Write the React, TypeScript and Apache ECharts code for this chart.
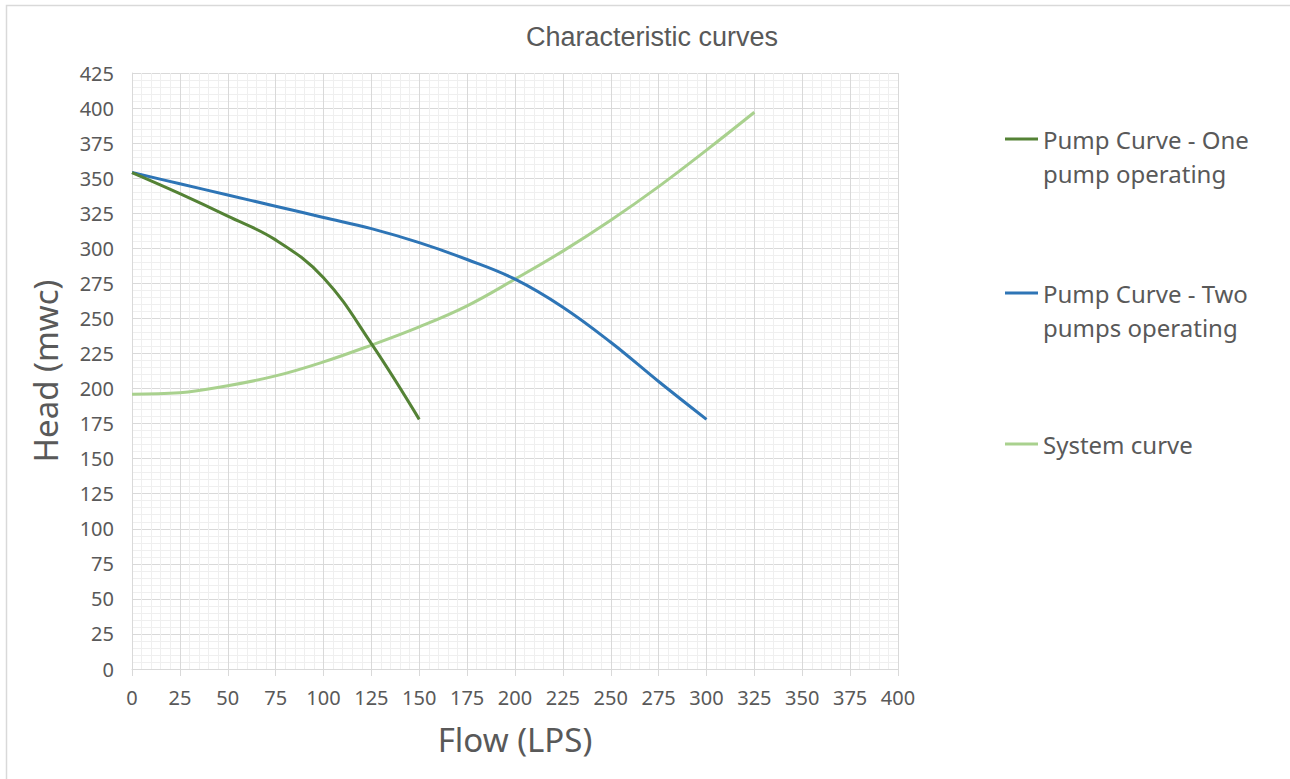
import React, { useEffect, useRef } from "react";
import * as echarts from "echarts";

const onePumpFlow = [0, 25, 50, 75, 100, 125, 150];
const onePumpHead = [354, 339, 323, 306, 279, 232, 178];

const twoPumpFlow = [0, 25, 50, 75, 100, 125, 150, 175, 200, 225, 250, 275, 300];
const twoPumpHead = [354, 346, 338, 330, 322, 314, 304, 292, 278, 258, 233, 205, 178];

const systemFlow = [0, 25, 50, 75, 100, 125, 150, 175, 200, 225, 250, 275, 300, 325];
const systemHead = [196, 197, 202, 209, 219, 231, 244, 259, 278, 298, 320, 344, 370, 397];

const seriesNames = [
  "Pump Curve - One pump operating",
  "Pump Curve - Two pumps operating",
  "System curve",
];
const legendLabels = [
  "\nPump Curve - One\npump operating",
  "\nPump Curve - Two\npumps operating",
  "System curve",
];
const colors = ["#548235", "#2E75B6", "#A9D18E"];

const zip = (xs: number[], ys: number[]) => xs.map((x, i) => [x, ys[i]]);

export default function App() {
  const ref = useRef<HTMLDivElement>(null);
  useEffect(() => {
    if (!ref.current) return;
    const chart = echarts.init(ref.current, undefined, { renderer: "svg" });
    const font = "Noto Sans";
    const txt = "#595959";
    const legendTops = [83, 237, 422];
    chart.setOption({
      animation: false,
      backgroundColor: "#ffffff",
      title: {
        text: "Characteristic curves",
        left: 647,
        top: 18,
        textAlign: "center",
        textStyle: { fontFamily: "Liberation Sans", fontSize: 27, fontWeight: "normal", color: txt },
      },
      legend: seriesNames.map((n, i) => ({
        data: [n],
        orient: "vertical",
        left: 1000,
        top: legendTops[i],
        icon: "rect",
        itemWidth: 33,
        itemHeight: 3,
        itemGap: 0,
        formatter: () => legendLabels[i],
        textStyle: { fontFamily: font, fontSize: 24, color: txt, lineHeight: 34 },
      })),
      grid: { left: 132, right: 392, top: 73, bottom: 110, containLabel: false },
      xAxis: {
        type: "value",
        min: 0,
        max: 400,
        interval: 25,
        name: "Flow (LPS)",
        nameLocation: "middle",
        nameGap: 54,
        nameTextStyle: { fontFamily: font, fontSize: 33, color: txt },
        axisLine: { show: true, lineStyle: { color: "#d9d9d9", width: 1 } },
        axisTick: { show: true, length: 7, lineStyle: { color: "#d9d9d9" } },
        axisLabel: { fontFamily: font, fontSize: 20, color: txt, margin: 18 },
        splitLine: { show: true, lineStyle: { color: "#d9d9d9", width: 1 } },
        minorTick: { show: false, splitNumber: 5 },
        minorSplitLine: { show: true, lineStyle: { color: "#efefef", width: 1 } },
      },
      yAxis: {
        type: "value",
        min: 0,
        max: 425,
        interval: 25,
        name: "Head (mwc)",
        nameLocation: "middle",
        nameGap: 70,
        nameRotate: 90,
        nameTextStyle: { fontFamily: font, fontSize: 33, color: txt },
        axisLine: { show: true, lineStyle: { color: "#d9d9d9", width: 1 } },
        axisTick: { show: false },
        axisLabel: { fontFamily: font, fontSize: 20, color: txt, margin: 18 },
        splitLine: { show: true, lineStyle: { color: "#d9d9d9", width: 1 } },
        minorTick: { show: false, splitNumber: 5 },
        minorSplitLine: { show: true, lineStyle: { color: "#efefef", width: 1 } },
      },
      graphic: [
        {
          type: "rect",
          shape: { x: 6.5, y: 5.5, width: 1300, height: 800 },
          style: { fill: "none", stroke: "#d9d9d9", lineWidth: 1.5 },
          silent: true,
        },
      ],
      series: [
        { name: seriesNames[0], data: zip(onePumpFlow, onePumpHead) },
        { name: seriesNames[1], data: zip(twoPumpFlow, twoPumpHead) },
        { name: seriesNames[2], data: zip(systemFlow, systemHead) },
      ].map((s, i) => ({
        ...s,
        type: "line",
        smooth: 0.4,
        symbol: "none",
        color: colors[i],
        lineStyle: { color: colors[i], width: 3 },
        z: 3 + (2 - i),
      })),
    });
    return () => chart.dispose();
  }, []);
  return (
    <div
      ref={ref}
      style={{ position: "absolute", left: 0, top: 0, width: 1290, height: 779 }}
    />
  );
}
